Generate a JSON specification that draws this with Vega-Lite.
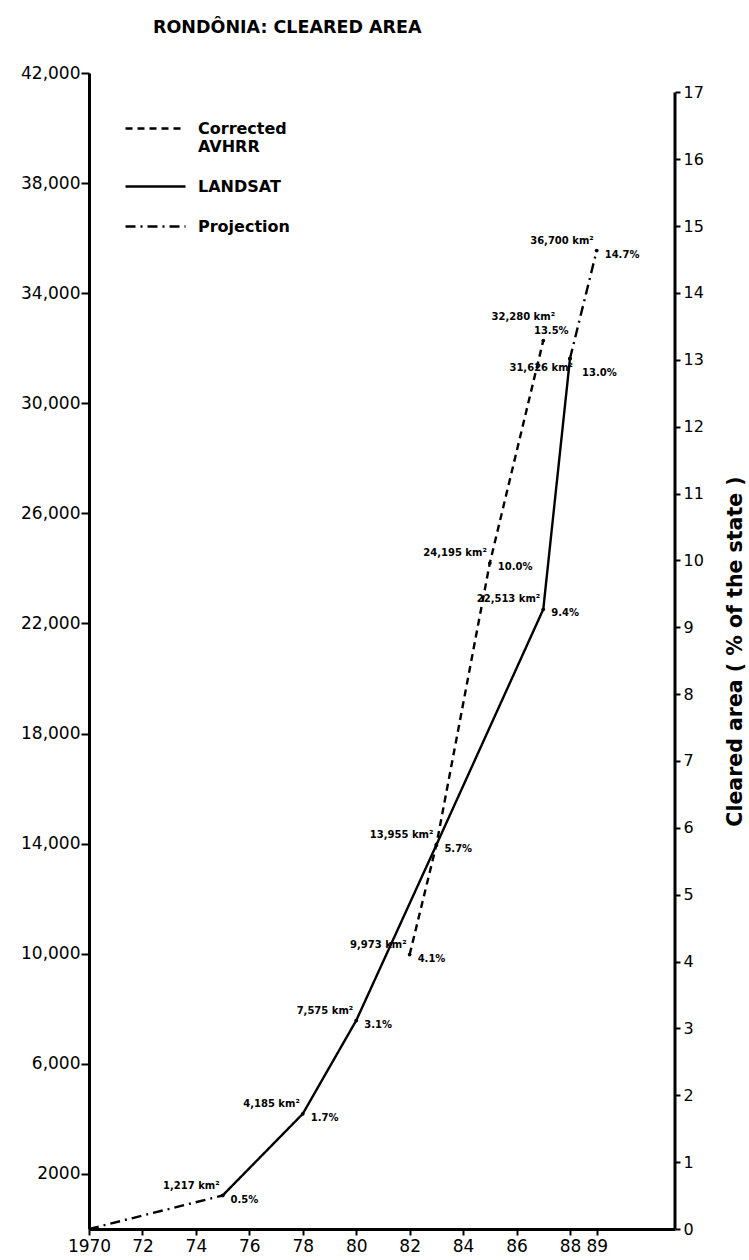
{
  "$schema": "https://vega.github.io/schema/vega-lite/v6.json",
  "width": 586,
  "height": 1156,
  "autosize": {"type": "none"},
  "padding": {"left": 89, "top": 73, "right": 74, "bottom": 31},
  "background": "white",
  "title": {
    "text": "RONDÔNIA: CLEARED AREA",
    "anchor": "start",
    "frame": "group",
    "dx": 64,
    "dy": 28,
    "offset": 42,
    "baseline": "alphabetic",
    "font": "DejaVu Sans",
    "fontSize": 17.5,
    "fontWeight": "bold",
    "color": "black"
  },
  "config": {
    "view": {"stroke": null},
    "font": "DejaVu Sans",
    "axis": {
      "grid": false,
      "domainColor": "black",
      "tickColor": "black",
      "labelColor": "black",
      "titleColor": "black",
      "labelFont": "DejaVu Sans",
      "titleFont": "DejaVu Sans"
    }
  },
  "data": {
    "values": [
      {"year": 1970, "area": 0, "series": "Projection", "seg": "a"},
      {"year": 1975, "area": 1217, "series": "Projection", "seg": "a"},
      {"year": 1975, "area": 1217, "series": "LANDSAT", "seg": "l", "km": "1,217 km²", "pct": "0.5%"},
      {"year": 1978, "area": 4185, "series": "LANDSAT", "seg": "l", "km": "4,185 km²", "pct": "1.7%"},
      {"year": 1980, "area": 7575, "series": "LANDSAT", "seg": "l", "km": "7,575 km²", "pct": "3.1%"},
      {"year": 1983, "area": 13955, "series": "LANDSAT", "seg": "l", "km": "13,955 km²", "pct": "5.7%"},
      {"year": 1987, "area": 22513, "series": "LANDSAT", "seg": "l", "km": "22,513 km²", "pct": "9.4%"},
      {"year": 1988, "area": 31626, "series": "LANDSAT", "seg": "l", "km": "31,626 km²", "pct": "13.0%"},
      {"year": 1982, "area": 9973, "series": "Corrected AVHRR", "seg": "c", "km": "9,973 km²", "pct": "4.1%"},
      {"year": 1983, "area": 13955, "series": "Corrected AVHRR", "seg": "c"},
      {"year": 1985, "area": 24195, "series": "Corrected AVHRR", "seg": "c", "km": "24,195 km²", "pct": "10.0%"},
      {"year": 1987, "area": 32280, "series": "Corrected AVHRR", "seg": "c", "km": "32,280 km²", "pct": "13.5%"},
      {"year": 1988, "area": 31626, "series": "Projection", "seg": "b"},
      {"year": 1989, "area": 35550, "series": "Projection", "seg": "b", "km": "36,700 km²", "pct": "14.7%"}
    ]
  },
  "resolve": {"scale": {"y": "independent"}, "axis": {"y": "independent"}},
  "layer": [
    {
      "encoding": {
        "x": {
          "field": "year",
          "type": "quantitative",
          "scale": {"domain": [1970, 1991.93], "nice": false, "zero": false},
          "axis": {
            "title": null,
            "values": [1970, 1972, 1974, 1976, 1978, 1980, 1982, 1984, 1986, 1988, 1989],
            "format": "d",
            "labelExpr": "datum.value == 1970 ? '1970' : slice(datum.label, 2)",
            "domainWidth": 3,
            "tickWidth": 2,
            "tickSize": 6,
            "labelFontSize": 17,
            "labelPadding": 3,
            "labelOverlap": false,
            "labelFlush": false
          }
        },
        "y": {
          "field": "area",
          "type": "quantitative",
          "scale": {"domain": [0, 42000], "nice": false},
          "axis": {
            "title": null,
            "orient": "left",
            "values": [2000, 6000, 10000, 14000, 18000, 22000, 26000, 30000, 34000, 38000, 42000],
            "labelExpr": "datum.value == 2000 ? '2000' : format(datum.value, ',')",
            "domainWidth": 3,
            "tickWidth": 2,
            "tickSize": 8,
            "labelPadding": 1,
            "labelFontSize": 17
          }
        }
      },
      "layer": [
        {
          "mark": {"type": "line", "color": "black", "strokeWidth": 2.4},
          "encoding": {
            "strokeDash": {
              "field": "series",
              "type": "nominal",
              "scale": {
                "domain": ["Corrected AVHRR", "LANDSAT", "Projection"],
                "range": [[7, 5], [1, 0], [10, 5, 2, 5]]
              },
              "legend": {
                "orient": "none",
                "legendX": 35,
                "legendY": 24,
                "title": null,
                "padding": 0,
                "symbolType": "stroke",
                "symbolSize": 3600,
                "symbolStrokeWidth": 2.4,
                "symbolStrokeColor": "black",
                "labelFont": "DejaVu Sans",
                "labelFontSize": 16,
                "labelFontWeight": "bold",
                "labelColor": "black",
                "labelOffset": 11,
                "rowPadding": 0,
                "labelExpr": "datum.label == 'Corrected AVHRR' ? ['Corrected', 'AVHRR'] : datum.label"
              }
            },
            "detail": {"field": "seg", "type": "nominal"}
          }
        },
        {
          "transform": [{"filter": "datum.year > 1970"}],
          "mark": {"type": "circle", "color": "black", "size": 14, "opacity": 1}
        },
        {
          "transform": [{"filter": "datum.km && !(datum.series == 'Corrected AVHRR' && datum.year == 1987) && !(datum.series == 'LANDSAT' && datum.year == 1988)"}],
          "mark": {"type": "text", "font": "DejaVu Sans", "fontWeight": "bold", "fontSize": 10, "align": "right", "baseline": "middle", "dx": -3, "dy": -10, "color": "black"},
          "encoding": {"text": {"field": "km"}}
        },
        {
          "transform": [{"filter": "datum.pct && !(datum.series == 'Corrected AVHRR' && datum.year == 1987) && !(datum.series == 'LANDSAT' && datum.year == 1988)"}],
          "mark": {"type": "text", "font": "DejaVu Sans", "fontWeight": "bold", "fontSize": 10, "align": "left", "baseline": "middle", "dx": 8, "dy": 4, "color": "black"},
          "encoding": {"text": {"field": "pct"}}
        },
        {
          "transform": [{"filter": "datum.series == 'Corrected AVHRR' && datum.year == 1987"}],
          "mark": {"type": "text", "font": "DejaVu Sans", "fontWeight": "bold", "fontSize": 10, "align": "center", "baseline": "middle", "dx": -20, "dy": -24, "color": "black"},
          "encoding": {"text": {"field": "km"}}
        },
        {
          "transform": [{"filter": "datum.series == 'Corrected AVHRR' && datum.year == 1987"}],
          "mark": {"type": "text", "font": "DejaVu Sans", "fontWeight": "bold", "fontSize": 10, "align": "center", "baseline": "middle", "dx": 8, "dy": -10, "color": "black"},
          "encoding": {"text": {"field": "pct"}}
        },
        {
          "transform": [{"filter": "datum.series == 'LANDSAT' && datum.year == 1988"}],
          "mark": {"type": "text", "font": "DejaVu Sans", "fontWeight": "bold", "fontSize": 10, "align": "right", "baseline": "middle", "dx": 3, "dy": 9, "color": "black"},
          "encoding": {"text": {"field": "km"}}
        },
        {
          "transform": [{"filter": "datum.series == 'LANDSAT' && datum.year == 1988"}],
          "mark": {"type": "text", "font": "DejaVu Sans", "fontWeight": "bold", "fontSize": 10, "align": "left", "baseline": "middle", "dx": 12, "dy": 14, "color": "black"},
          "encoding": {"text": {"field": "pct"}}
        }
      ]
    },
    {
      "data": {"values": [{"edge": 1991.93, "lo": 0, "hi": 17}]},
      "mark": {"type": "rule", "color": "black", "strokeWidth": 3},
      "encoding": {
        "x": {"field": "edge", "type": "quantitative"},
        "y": {
          "field": "lo",
          "type": "quantitative",
          "scale": {"domain": [0, 17.29], "nice": false},
          "axis": {
            "orient": "right",
            "values": [0, 1, 2, 3, 4, 5, 6, 7, 8, 9, 10, 11, 12, 13, 14, 15, 16, 17],
            "domain": false,
            "tickWidth": 2,
            "tickSize": 5,
            "labelPadding": 3,
            "labelFontSize": 16,
            "title": "Cleared area ( % of the state )",
            "titleFontSize": 20.5,
            "titleFontWeight": "bold",
            "titleAngle": -90,
            "titleAlign": "center",
            "titleBaseline": "middle",
            "titleX": 60,
            "titleY": 578
          }
        },
        "y2": {"field": "hi"}
      }
    }
  ]
}
